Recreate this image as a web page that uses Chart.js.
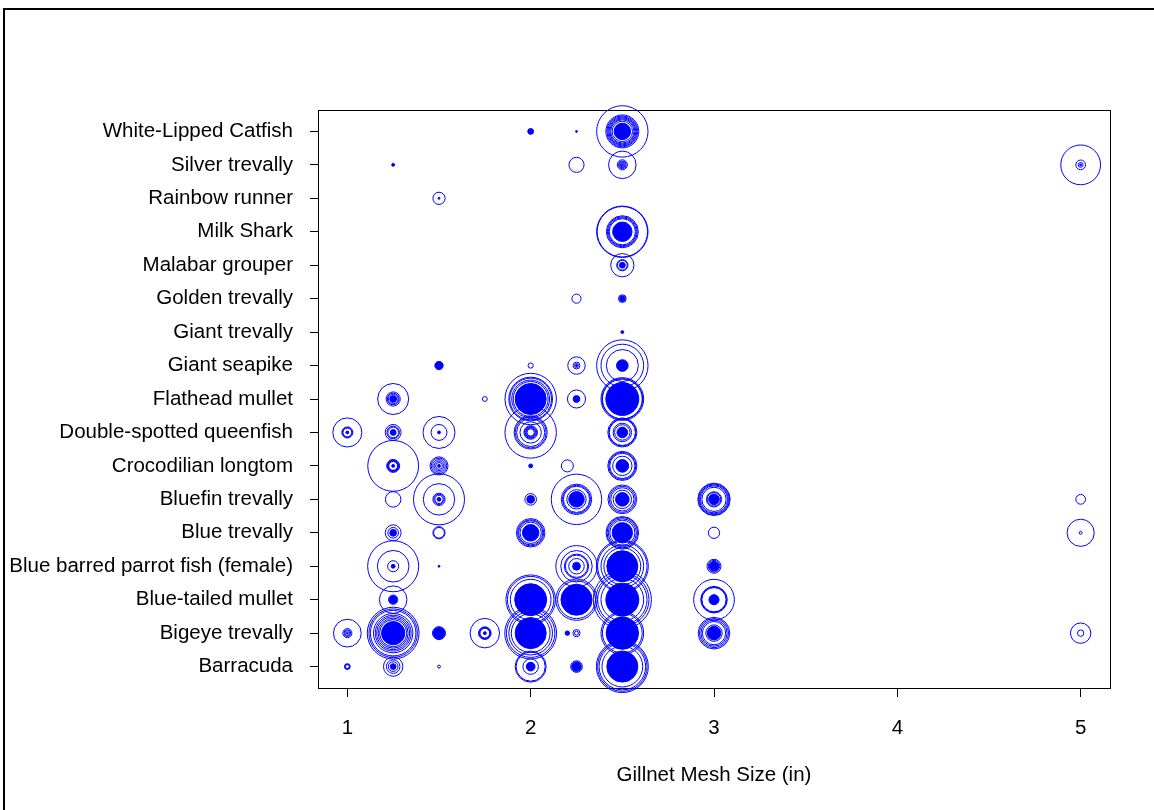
<!DOCTYPE html>
<html>
<head>
<meta charset="utf-8">
<script src="https://cdn.jsdelivr.net/npm/chart.js@4"></script>
<style>
  html, body { margin: 0; padding: 0; background: #fff; }
  #wrap { width: 1154px; height: 810px; }
</style>
</head>
<body>
<div id="wrap"><canvas id="bubbleChart" width="1154" height="810"></canvas></div>
<script>
// species on the y axis, bottom to top
const species = [
    'Barracuda',
    'Bigeye trevally',
    'Blue-tailed mullet',
    'Blue barred parrot fish (female)',
    'Blue trevally',
    'Bluefin trevally',
    'Crocodilian longtom',
    'Double-spotted queenfish',
    'Flathead mullet',
    'Giant seapike',
    'Giant trevally',
    'Golden trevally',
    'Malabar grouper',
    'Milk Shark',
    'Rainbow runner',
    'Silver trevally',
    'White-Lipped Catfish'
];

const meshTicks = [1, 2, 3, 4, 5];

// each entry: [mesh size, ring sizes, filled core size]
const barracuda = [
    [1, [3, 2.5, 2], 0],
    [1.25, [10, 7, 5], 3],
    [1.5, [1.5], 0],
    [2, [16, 15, 8], 4.5],
    [2.25, [6], 5],
    [2.5, [26.8, 25.5, 24, 21], 16]
];
const bigeyeTrevally = [
    [1, [14.3, 4.7, 3.5, 2.5], 1],
    [1.25, [26.7, 25, 23.5, 20.3, 18.5, 17, 15.5, 14], 12],
    [1.5, [6.7], 6],
    [1.75, [15.2, 6.5, 6, 5.5, 5], 1.5],
    [2, [26.7, 25, 22.5, 20], 16],
    [2.2, [], 2.3],
    [2.25, [3.7, 2], 0],
    [2.5, [22, 20.5], 16.7],
    [3, [16.3, 15, 13.5, 12, 8.5], 7],
    [5, [10.5, 3.3], 0]
];
const blueTailedMullet = [
    [1.25, [14.2, 4.8], 4],
    [2, [25.5, 24, 21], 16.5],
    [2.25, [21.3, 19.5], 16],
    [2.5, [30, 27.5, 25.5, 22], 17],
    [3, [21, 13.7, 13, 12.5], 5.2]
];
const blueBarredParrot = [
    [1.25, [26.3, 16.3, 5.7], 2],
    [1.5, [], 1],
    [2.25, [21.3, 16.2, 12.5, 11.5, 8], 4],
    [2.5, [26.8, 25.5, 22, 19], 16],
    [3, [7.2, 6], 5]
];
const blueTrevally = [
    [1.25, [8.2, 5.5], 3.5],
    [1.5, [6.3, 5.5], 0],
    [2, [14.7, 13.5, 12.5, 11], 8.5],
    [2.5, [16.8, 15.8, 14.5, 13], 10.5],
    [3, [5.8], 0],
    [5, [14, 1.5], 0]
];
const bluefinTrevally = [
    [1.25, [8], 0],
    [1.5, [26.3, 16.2, 6.3, 5.3, 4.3], 2],
    [2, [6], 4],
    [2.25, [26, 15.7, 14.5, 13.5, 10], 8],
    [2.5, [14.8, 13.5, 12, 9.5], 7],
    [3, [16.7, 16, 15, 14, 12.5, 7.8, 7], 5.5],
    [5, [5], 0]
];
const crocodilianLongtom = [
    [1.25, [26.2, 6.7, 6, 5.5, 5, 4.5], 1.5],
    [1.5, [9.3, 8, 6.5, 5, 3.5], 1.5],
    [2, [], 2],
    [2.2, [6.2], 0],
    [2.5, [15, 14, 13, 10], 6.5]
];
const doubleSpottedQueenfish = [
    [1, [15, 5.7, 5, 4.5], 1.5],
    [1.25, [8.2, 6.5, 5.5], 3],
    [1.5, [16.5, 8.2], 1.5],
    [2, [26.5, 17, 16, 14.5, 11, 7, 6.2, 5.4, 4.6, 3.8], 0],
    [2.5, [15, 14, 13.5, 9.5, 8], 5.5]
];
const flatheadMullet = [
    [1.25, [16, 7.3, 6, 5], 3.5],
    [1.75, [2.5], 0],
    [2, [26.5, 22.5, 21.5, 19.5, 18], 16],
    [2.25, [9.3], 3.5],
    [2.5, [22, 21, 20.5], 17]
];
const giantSeapike = [
    [1.5, [], 4.3],
    [2, [2.7], 0],
    [2.25, [9, 3.5, 2], 1],
    [2.5, [26.5, 22, 16.5], 6]
];
const giantTrevally = [
    [2.5, [], 1.5]
];
const goldenTrevally = [
    [2.25, [4.7], 0],
    [2.5, [4, 3], 2.5]
];
const malabarGrouper = [
    [2.5, [12, 5.8, 5], 3]
];
const milkShark = [
    [2.5, [26.5, 26, 16.5, 15.5, 14.5, 13.5], 10]
];
const rainbowRunner = [
    [1.5, [6.3], 1]
];
const silverTrevally = [
    [1.25, [], 1.5],
    [2.25, [7.8], 0],
    [2.5, [14.2, 5.2, 4, 3, 2], 1],
    [5, [20.5, 5, 2.5], 1]
];
const whiteLippedCatfish = [
    [2, [], 3],
    [2.25, [], 1],
    [2.5, [26.5, 17, 16, 15, 14, 13, 12, 10.5], 8.5]
];

const rows = [
    barracuda, bigeyeTrevally, blueTailedMullet, blueBarredParrot, blueTrevally,
    bluefinTrevally, crocodilianLongtom, doubleSpottedQueenfish, flatheadMullet,
    giantSeapike, giantTrevally, goldenTrevally, malabarGrouper, milkShark,
    rainbowRunner, silverTrevally, whiteLippedCatfish
];

const SIZE_SCALE = 0.97;
const BLUE = '#0000ff';
const FONT = { family: "'Liberation Sans', Arial, sans-serif", size: 20.5 };

const ringPoints = [];
const corePoints = [];
rows.forEach((row, i) => {
    row.forEach(([mesh, rings, core]) => {
        rings.forEach(s => ringPoints.push({ x: mesh, y: i + 1, r: s * SIZE_SCALE }));
        if (core > 0) corePoints.push({ x: mesh, y: i + 1, r: core * SIZE_SCALE });
    });
});

// plot box and outer frame
const frame = {
    id: 'frame',
    beforeDatasetsDraw(chart) {
        const { ctx, chartArea } = chart;
        ctx.save();
        ctx.strokeStyle = '#000';
        ctx.lineWidth = 1;
        ctx.strokeRect(chartArea.left + 0.5, chartArea.top + 0.5,
            chartArea.right - chartArea.left, chartArea.bottom - chartArea.top);
        ctx.fillStyle = '#000';
        ctx.fillRect(3, 8, 1151, 2);
        ctx.fillRect(3, 8, 2, 802);
        ctx.restore();
    }
};

new Chart(document.getElementById('bubbleChart').getContext('2d'), {
    type: 'bubble',
    data: {
        datasets: [{
            label: 'rings',
            data: ringPoints,
            backgroundColor: 'rgba(0, 0, 0, 0)',
            borderColor: BLUE,
            borderWidth: 1,
            clip: false
        }, {
            label: 'cores',
            data: corePoints,
            backgroundColor: BLUE,
            borderColor: BLUE,
            borderWidth: 1,
            clip: false
        }]
    },
    options: {
        responsive: false,
        animation: false,
        events: [],
        layout: { padding: { top: 110, right: 44, bottom: 0, left: 0 } },
        plugins: {
            legend: { display: false },
            tooltip: { enabled: false }
        },
        scales: {
            x: {
                type: 'linear',
                min: 0.84,
                max: 5.16,
                afterBuildTicks: axis => { axis.ticks = meshTicks.map(v => ({ value: v })); },
                afterFit: scale => { scale.height = 122; },
                grid: { drawOnChartArea: false, color: '#000', tickLength: 9 },
                border: { display: false },
                ticks: { color: '#000', font: FONT, padding: 19, autoSkip: false, maxRotation: 0 },
                title: {
                    display: true,
                    text: 'Gillnet Mesh Size (in)',
                    color: '#000',
                    font: FONT,
                    padding: { top: 0, bottom: 22 }
                }
            },
            y: {
                type: 'linear',
                min: 0.36,
                max: 17.64,
                afterBuildTicks: axis => { axis.ticks = species.map((s, i) => ({ value: i + 1 })); },
                afterFit: scale => { scale.width = 318; },
                grid: { drawOnChartArea: false, color: '#000', tickLength: 8 },
                border: { display: false },
                ticks: {
                    color: '#000',
                    font: FONT,
                    padding: 17,
                    autoSkip: false,
                    callback: v => species[v - 1]
                }
            }
        }
    },
    plugins: [frame]
});
</script>
</body>
</html>
